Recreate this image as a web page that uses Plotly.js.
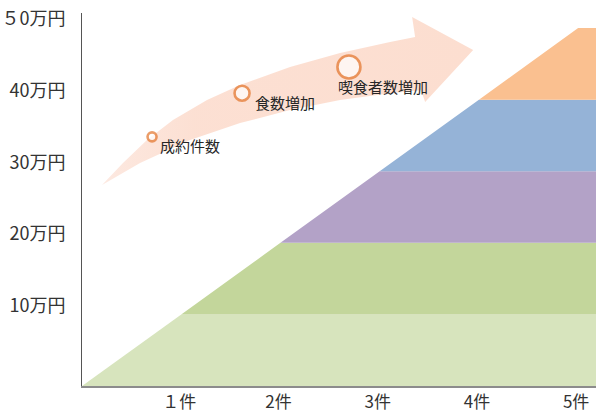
<!DOCTYPE html>
<html>
<head>
<meta charset="utf-8">
<script src="https://cdn.plot.ly/plotly-3.0.1.min.js"></script>
<style>html,body{margin:0;padding:0;background:#fff;}#chart{width:597px;height:412px;}</style>
</head>
<body>
<div id="chart"></div>
<script>
// ---- data ----
var cases = [0, 1, 2, 3, 4, 5, 5.2];           // 件数
var band1 = [0, 10, 10, 10, 10, 10, 10];       // 万円
var band2 = [0, 0, 10, 10, 10, 10, 10];
var band3 = [0, 0, 0, 10, 10, 10, 10];
var band4 = [0, 0, 0, 0, 10, 10, 10];
var band5 = [0, 0, 0, 0, 0, 10, 10];
var bandColors = ['#D7E4BD', '#C3D69B', '#B3A2C7', '#95B3D7', '#FAC090'];

var xTickVals = [1, 2, 3, 4, 5];
var xTickText = ['１件', '2件', '3件', '4件', '5件'];
var yTickVals = [10, 20, 30, 40, 50];
var yTickText = ['10万円', '20万円', '30万円', '40万円', '５0万円'];

// growth arrow outline (data units)
var arrowX = [0.202, 0.413, 0.655, 0.917, 1.260, 1.593, 2.097, 2.601, 3.105, 3.357,
              3.327, 3.942, 3.458, 3.417,
              3.105, 2.601, 2.097, 1.593, 1.089, 0.585, 0.202];
var arrowY = [28.07, 31.15, 34.36, 37.15, 39.94, 42.04, 44.55, 46.51, 48.04, 48.74,
              51.54, 46.93, 39.66, 41.31,
              40.89, 39.94, 38.55, 36.73, 34.36, 31.15, 28.07];

// stage markers
var stageX = [0.706, 1.613, 2.69];
var stageY = [34.8, 40.9, 44.55];
var stageSize = [9, 15, 23];
var stageLabels = ['成約件数', '食数増加', '喫食者数増加'];
var labelShiftX = [6, 11, -13];
var labelShiftY = [-9, -9, -19];

var FONT = '"Noto Sans CJK JP", "Noto Sans", sans-serif';

var bands = [band1, band2, band3, band4, band5];
var traces = bands.map(function (b, i) {
  return {
    type: 'scatter', mode: 'none', x: cases, y: b,
    stackgroup: 'one', fillcolor: bandColors[i],
    line: {width: 0}, hoverinfo: 'skip', showlegend: false
  };
});

traces.push({
  type: 'scatter', mode: 'lines', x: arrowX, y: arrowY,
  fill: 'toself', line: {width: 0},
  fillgradient: {
    type: 'horizontal',
    colorscale: [[0, 'rgba(251,218,204,0.6)'], [0.25, 'rgba(252,221,207,0.92)'], [1, 'rgba(252,222,208,1)']]
  },
  hoverinfo: 'skip', showlegend: false
});

traces.push({
  type: 'scatter', mode: 'markers', x: stageX, y: stageY,
  marker: {size: stageSize, color: '#ffffff', line: {color: '#E3742A', width: 2.6}},
  hoverinfo: 'skip', showlegend: false
});

var annotations = stageLabels.map(function (t, i) {
  return {
    x: stageX[i], y: stageY[i], xref: 'x', yref: 'y', text: t, showarrow: false,
    xanchor: 'left', yanchor: 'middle', xshift: labelShiftX[i], yshift: labelShiftY[i],
    font: {family: FONT, size: 15, color: '#262626'}
  };
});

var layout = {
  width: 597, height: 412,
  margin: {l: 82, r: 1, t: 13, b: 26},
  paper_bgcolor: '#ffffff', plot_bgcolor: '#ffffff',
  showlegend: false,
  font: {family: FONT, color: '#333333'},
  xaxis: {
    range: [0, 5.18], showgrid: false, zeroline: false,
    showline: true, linecolor: '#8C8C8C', linewidth: 1.5,
    tickvals: xTickVals, ticktext: xTickText, ticks: '',
    tickfont: {family: FONT, size: 17, color: '#333333'},
    ticklabelstandoff: 0, ticklabelshift: -2
  },
  yaxis: {
    range: [0, 52.1], showgrid: false, zeroline: false,
    showline: true, linecolor: '#555555', linewidth: 1,
    tickvals: yTickVals, ticktext: yTickText, ticks: '',
    tickfont: {family: FONT, size: 18, color: '#333333'},
    ticklabelstandoff: 12, ticklabelshift: -9
  },
  annotations: annotations
};

Plotly.newPlot('chart', traces, layout, {displayModeBar: false, staticPlot: true});
</script>
</body>
</html>
